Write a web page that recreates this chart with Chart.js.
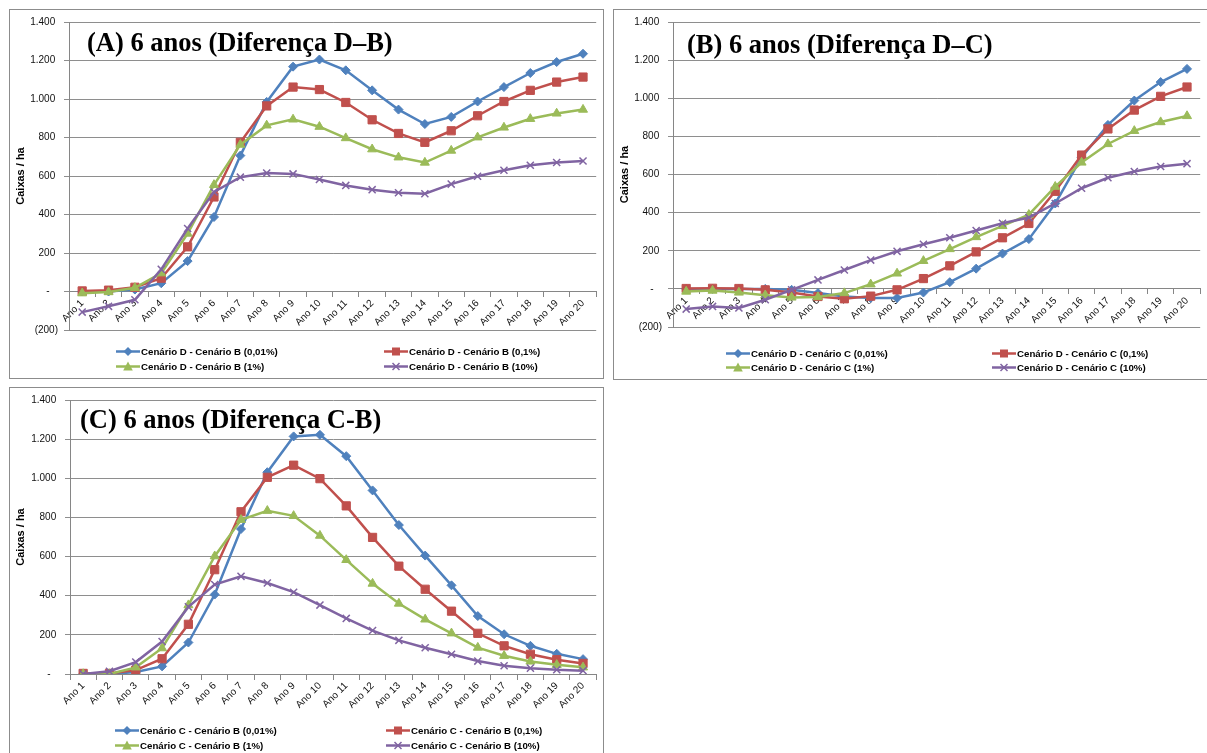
<!DOCTYPE html>
<html>
<head>
<meta charset="utf-8">
<script src="https://cdn.jsdelivr.net/npm/chart.js@4.4.1/dist/chart.umd.min.js"></script>
<style>
body{margin:0;background:#fff;width:1207px;height:753px;overflow:hidden;position:relative;font-family:"Liberation Sans",Arial,sans-serif}
.panel{position:absolute;border:1px solid #8c8c8c;box-sizing:border-box;overflow:hidden}
.panel canvas{position:absolute;left:0;top:0}
.ttl{position:absolute;font:bold 26.5px "Liberation Serif","Times New Roman",serif;line-height:30px;white-space:nowrap;color:#000}
.leg{position:absolute;font:bold 9.7px "Liberation Sans",Arial,sans-serif;line-height:12px;white-space:nowrap;color:#000}
.leg canvas{vertical-align:middle;margin-right:1px;position:relative;top:-1px}
</style>
</head>
<body>

<div class="panel" id="pA" style="left:9px;top:9px;width:595px;height:370px"><canvas id="cA" width="593" height="368"></canvas></div>
<div class="panel" id="pB" style="left:613px;top:9px;width:595px;height:371px"><canvas id="cB" width="593" height="369"></canvas></div>
<div class="panel" id="pC" style="left:9px;top:387px;width:595px;height:380px"><canvas id="cC" width="593" height="378"></canvas></div>

<div class="ttl" style="left:87px;top:27px">(A) 6 anos (Diferença D–B)</div>
<div class="ttl" style="left:687px;top:29px">(B) 6 anos (Diferença D–C)</div>
<div class="ttl" style="left:80px;top:404px">(C) 6 anos (Diferença C-B)</div>

<script>
// categorias
var anos = ['Ano 1','Ano 2','Ano 3','Ano 4','Ano 5','Ano 6','Ano 7','Ano 8','Ano 9','Ano 10',
            'Ano 11','Ano 12','Ano 13','Ano 14','Ano 15','Ano 16','Ano 17','Ano 18','Ano 19','Ano 20']

// (A) Diferença D-B
var dB_001 = [0,0,10,43,158,387,706,985,1168,1205,1149,1045,945,870,907,987,1062,1135,1192,1235]
var dB_01  = [3,7,22,69,232,491,775,964,1062,1049,982,892,821,775,835,913,987,1045,1088,1114]
var dB_1   = [-9,-3,19,95,301,554,763,863,894,856,797,739,697,670,732,801,852,897,925,945]
var dB_10  = [-107,-77,-43,115,327,517,594,615,611,582,551,529,513,508,558,599,630,656,670,678]

// (B) Diferença D-C
var dC_001 = [0,0,0,0,-5,-22,-40,-48,-48,-19,35,106,185,261,448,690,860,988,1085,1154]
var dC_01  = [2,3,2,-5,-19,-40,-52,-38,-5,54,121,194,268,343,512,702,839,938,1010,1059]
var dC_1   = [-14,-9,-19,-33,-45,-43,-22,24,81,147,209,272,330,389,536,663,760,829,875,907]
var dC_10  = [-106,-92,-100,-57,-5,47,99,151,197,234,268,306,344,374,448,528,583,616,642,657]

// (C) Diferença C-B
var cB_001 = [0,0,10,39,161,406,741,1031,1214,1222,1113,938,761,605,453,296,203,144,103,76]
var cB_01  = [3,3,20,78,254,533,829,1005,1067,998,859,698,551,433,321,208,144,101,73,54]
var cB_1   = [0,0,34,132,352,602,788,834,808,707,583,462,360,279,208,135,93,64,47,34]
var cB_10  = [0,14,61,166,343,457,499,465,418,352,284,222,172,134,101,66,42,30,22,17]

var nomesA = ['Cenário D - Cenário B (0,01%)','Cenário D - Cenário B (0,1%)','Cenário D - Cenário B (1%)','Cenário D - Cenário B (10%)']
var nomesB = ['Cenário D - Cenário C (0,01%)','Cenário D - Cenário C (0,1%)','Cenário D - Cenário C (1%)','Cenário D - Cenário C (10%)']
var nomesC = ['Cenário C - Cenário B (0,01%)','Cenário C - Cenário B (0,1%)','Cenário C - Cenário B (1%)','Cenário C - Cenário B (10%)']

var cores = ['#4F81BD','#C0504D','#9BBB59','#8064A2']
var estilos = ['rectRot','rect','triangle','crossRot']
var raios = [4.5,5.8,5.2,5]
var fonte = '"Liberation Sans", Arial, sans-serif'

function fmt(v){
    if (v === 0) return '-   '
    if (v < 0) return '(' + Math.abs(v) + ')'
    var s = v >= 1000 ? Math.floor(v/1000) + '.' + String(v % 1000).padStart(3,'0') : String(v)
    return s + ' '
}

function grafico(id, w, h, area, ymin, series, nomes){
    var ctx = document.getElementById(id).getContext('2d')
    var datasets = []
    for (var i = 0; i < series.length; i++) {
        datasets.push({
            label: nomes[i],
            data: series[i],
            borderColor: cores[i],
            backgroundColor: cores[i],
            borderWidth: 2.5,
            pointStyle: estilos[i],
            pointRadius: raios[i],
            pointBorderWidth: i == 3 ? 1.5 : 1,
            pointBackgroundColor: cores[i],
            pointBorderColor: cores[i],
            tension: 0,
            order: 3 - i
        })
    }
    return new Chart(ctx, {
        type: 'line',
        data: { labels: anos, datasets: datasets },
        options: {
            responsive: false,
            animation: false,
            layout: { padding: { left: 0, top: area.top, right: w - area.right, bottom: h - area.bottom } },
            plugins: { legend: { display: false }, tooltip: { enabled: false } },
            scales: {
                x: {
                    type: 'category',
                    offset: true,
                    position: { y: 0 },
                    grid: { drawOnChartArea: false, drawTicks: true, tickLength: 5, offset: true, color: '#868686' },
                    border: { color: '#868686', width: 1 },
                    ticks: { autoSkip: false, minRotation: 45, maxRotation: 45, padding: 1, color: '#111', font: { family: fonte, size: 10 } }
                },
                y: {
                    min: ymin, max: 1400,
                    ticks: { stepSize: 200, callback: fmt, padding: 6, color: '#111', font: { family: fonte, size: 10 } },
                    grid: { color: '#8e8e8e', tickLength: 5 },
                    border: { color: '#868686' },
                    title: { display: true, text: 'Caixas / ha', color: '#000', font: { family: fonte, size: 11, weight: 'bold' }, padding: { top: 4, bottom: 0 } },
                    afterFit: function(s){ s.width = area.left }
                }
            }
        }
    })
}

grafico('cA', 593, 368, {left:59, top:10, right:588, bottom:320}, -200, [dB_001, dB_01, dB_1, dB_10], nomesA)
grafico('cB', 593, 369, {left:59, top:9, right:590, bottom:317}, -200, [dC_001, dC_01, dC_1, dC_10], nomesB)
grafico('cC', 593, 378, {left:60, top:10, right:589, bottom:286}, 0, [cB_001, cB_01, cB_1, cB_10], nomesC)

// legenda em duas colunas, como no Excel
function simbolo(i){
    var c = document.createElement('canvas')
    c.width = 24; c.height = 11
    var g = c.getContext('2d')
    g.strokeStyle = cores[i]; g.fillStyle = cores[i]; g.lineWidth = 2.5
    g.beginPath(); g.moveTo(0, 5.5); g.lineTo(24, 5.5); g.stroke()
    var x = 12, y = 5.5
    g.beginPath()
    if (estilos[i] == 'rectRot') { g.moveTo(x, y-4.5); g.lineTo(x+4.5, y); g.lineTo(x, y+4.5); g.lineTo(x-4.5, y); g.closePath(); g.fill() }
    else if (estilos[i] == 'rect') { g.fillRect(x-4, y-4, 8, 8) }
    else if (estilos[i] == 'triangle') { g.moveTo(x, y-5); g.lineTo(x+4.8, y+4); g.lineTo(x-4.8, y+4); g.closePath(); g.fill() }
    else { g.lineWidth = 1.5; g.moveTo(x-3.5, y-3.5); g.lineTo(x+3.5, y+3.5); g.moveTo(x+3.5, y-3.5); g.lineTo(x-3.5, y+3.5); g.stroke() }
    return c
}

function legenda(nomes, xs, ys){
    for (var i = 0; i < 4; i++) {
        var d = document.createElement('div')
        d.className = 'leg'
        d.style.left = (xs[i % 2] - 25) + 'px'
        d.style.top = (ys[Math.floor(i / 2)] - 6) + 'px'
        d.appendChild(simbolo(i))
        d.appendChild(document.createTextNode(nomes[i]))
        document.body.appendChild(d)
    }
}

legenda(nomesA, [141, 409], [352, 367])
legenda(nomesB, [751, 1017], [354, 368])
legenda(nomesC, [140, 411], [731, 746])
</script>
</body>
</html>
